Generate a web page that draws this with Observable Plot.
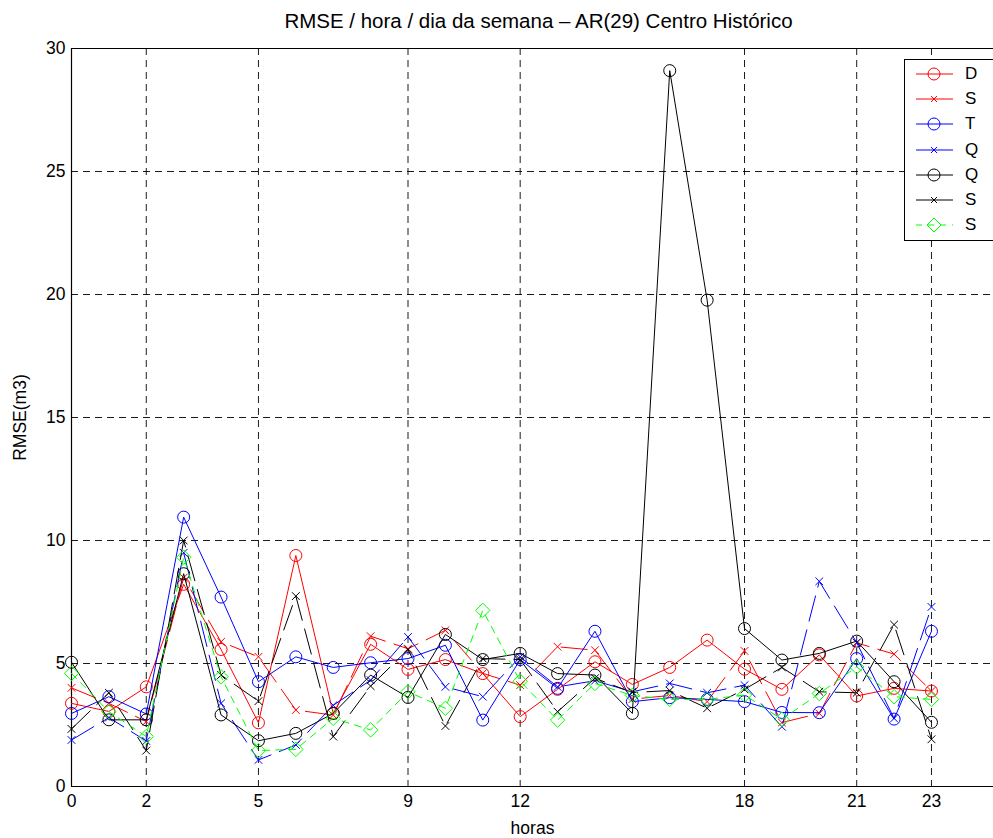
<!DOCTYPE html>
<html>
<head>
<meta charset="utf-8">
<script src="https://cdn.jsdelivr.net/npm/d3@7"></script>
<script src="https://cdn.jsdelivr.net/npm/@observablehq/plot@0.6"></script>
<style>
  html, body { margin: 0; padding: 0; background: white; overflow: hidden; }
  #wrap { position: relative; width: 993px; height: 838px; font-family: "Liberation Sans", Arial, sans-serif; }
  #title { position: absolute; left: 0; width: 1077px; top: 9px; text-align: center; font-size: 20.5px; color: #000; }
  #legend { position: absolute; left: 904px; top: 59px; width: 120px; height: 182px; border: 1px solid #000; background: #fff; box-sizing: border-box; padding-top: 1px; }
  .row { height: 25.3px; display: flex; align-items: center; }
  .row svg { margin-left: 11px; }
  .row span { margin-left: 12px; font-size: 17px; }
</style>
</head>
<body>
<div id="wrap">
  <div id="chart"></div>
  <div id="title">RMSE / hora / dia da semana – AR(29) Centro Histórico</div>
  <div id="legend"></div>
</div>
<script>
// ---- data ----
const hours = [0,1,2,3,4,5,6,7,8,9,10,11,12,13,14,15,16,17,18,19,20,21,22,23];
const xTicks = [0,2,5,9,12,18,21,23];
const yTicks = [0,5,10,15,20,25,30];
const gridX = [2,5,9,12,18,21,23];
const gridY = [5,10,15,20,25];

const seriesNames = ["D","S","T","Q","Q","S","S"];
const dD  = [3.38,3.05,4.05,8.22,5.57,2.59,9.39,2.97,5.78,4.76,5.16,4.59,2.84,3.95,5.07,4.15,4.84,5.95,4.77,3.95,5.35,3.68,3.99,3.88];
const dS1 = [4.01,3.38,2.64,8.49,5.88,5.27,3.11,2.90,6.11,5.60,6.35,4.60,4.12,5.68,5.54,3.55,3.70,3.45,5.51,2.60,2.97,5.84,5.38,3.88];
const dT  = [2.97,3.65,2.95,10.95,7.70,4.26,5.27,4.84,5.03,5.20,5.74,2.70,5.16,3.99,6.31,3.45,3.61,3.54,3.45,3.01,3.00,5.20,2.74,6.31];
const dQ1 = [1.89,2.80,1.85,9.50,3.38,1.08,1.69,3.30,4.32,6.08,4.05,3.65,5.27,4.05,4.30,3.85,4.19,3.81,4.12,2.43,8.34,5.85,2.77,7.30];
const dQ2 = [5.05,2.71,2.71,8.65,2.91,1.86,2.16,2.97,4.53,3.62,6.18,5.16,5.41,4.59,4.53,2.97,29.10,19.77,6.42,5.14,5.41,5.91,4.26,2.61];
const dS2 = [2.34,3.81,1.46,10.00,4.53,3.47,7.74,2.03,4.08,5.57,2.46,5.20,5.16,3.04,4.40,3.82,3.90,3.18,3.95,4.84,3.85,3.81,6.58,1.92];
const dS3 = [4.60,3.04,2.03,9.32,4.46,1.46,1.51,2.77,2.30,3.85,3.18,7.16,4.28,2.70,4.19,3.70,3.54,3.54,3.72,2.73,3.78,4.86,3.65,3.54];

const seriesValues = [dD, dS1, dT, dQ1, dQ2, dS2, dS3];
const seriesColors = ["#ff0000","#ff0000","#0000ff","#0000ff","#000000","#000000","#00ff00"];
const seriesSymbols = ["circle","times","circle","times","circle","times","diamond2"];
const seriesDash = [null,"26,9",null,"26,9",null,"26,9","7,6"];
const seriesR = [6,3.6,6,3.6,6,3.6,6.5];

const marks = [
  Plot.ruleY(gridY, {stroke: "#000", strokeWidth: 0.9, strokeDasharray: "7,5"}),
  Plot.ruleX(gridX, {stroke: "#000", strokeWidth: 0.9, strokeDasharray: "7,5"}),
  Plot.ruleY([0, 30], {stroke: "#000", strokeWidth: 1.2}),
  Plot.ruleX([0], {stroke: "#000", strokeWidth: 1.2}),
  Plot.axisY({ticks: yTicks, tickSize: 0, tickPadding: 6, fontSize: 17.5, label: "RMSE(m3)", labelAnchor: "center", labelArrow: "none", labelOffset: 58}),
  Plot.axisX({ticks: xTicks, tickSize: 0, tickPadding: 8, fontSize: 17.5, label: "horas", labelAnchor: "center", labelArrow: "none", labelOffset: 47})
];

seriesValues.forEach((vals, i) => {
  const rows = hours.map((h, j) => ({h, v: vals[j]}));
  marks.push(Plot.line(rows, {x: "h", y: "v", stroke: seriesColors[i], strokeWidth: 1, strokeDasharray: seriesDash[i]}));
  marks.push(Plot.dot(rows, {x: "h", y: "v", stroke: seriesColors[i], symbol: seriesSymbols[i], r: seriesR[i], strokeWidth: 1, fill: "none"}));
});

const chart = Plot.plot({
  width: 993,
  height: 838,
  marginTop: 48,
  marginBottom: 52,
  marginLeft: 71,
  marginRight: 0,
  x: {domain: [0, 25], range: [71, 71 + 25 * 37.39]},
  y: {domain: [0, 30], range: [786, 48]},
  style: {fontFamily: "'Liberation Sans', Arial, sans-serif", fontSize: "17px", color: "#000", background: "white", overflow: "hidden"},
  marks
});
document.getElementById("chart").appendChild(chart);

// legend
const legend = document.getElementById("legend");
seriesNames.forEach((name, i) => {
  const row = document.createElement("div");
  row.className = "row";
  const sym = seriesSymbols[i];
  const c = seriesColors[i];
  let m = "";
  if (sym === "circle") m = `<circle cx="18" cy="8" r="6" fill="none" stroke="${c}"/>`;
  else if (sym === "times") m = `<path d="M15,5L21,11M21,5L15,11" stroke="${c}" fill="none"/>`;
  else m = `<path d="M18,1L25,8L18,15L11,8Z" fill="none" stroke="${c}"/>`;
  const dash = seriesDash[i] === "7,6" ? ' stroke-dasharray="6,6"' : "";
  row.innerHTML = `<svg width="37" height="16"><line x1="0" x2="37" y1="8" y2="8" stroke="${c}"${dash}/>${m}</svg><span>${name}</span>`;
  legend.appendChild(row);
});
</script>
</body>
</html>
